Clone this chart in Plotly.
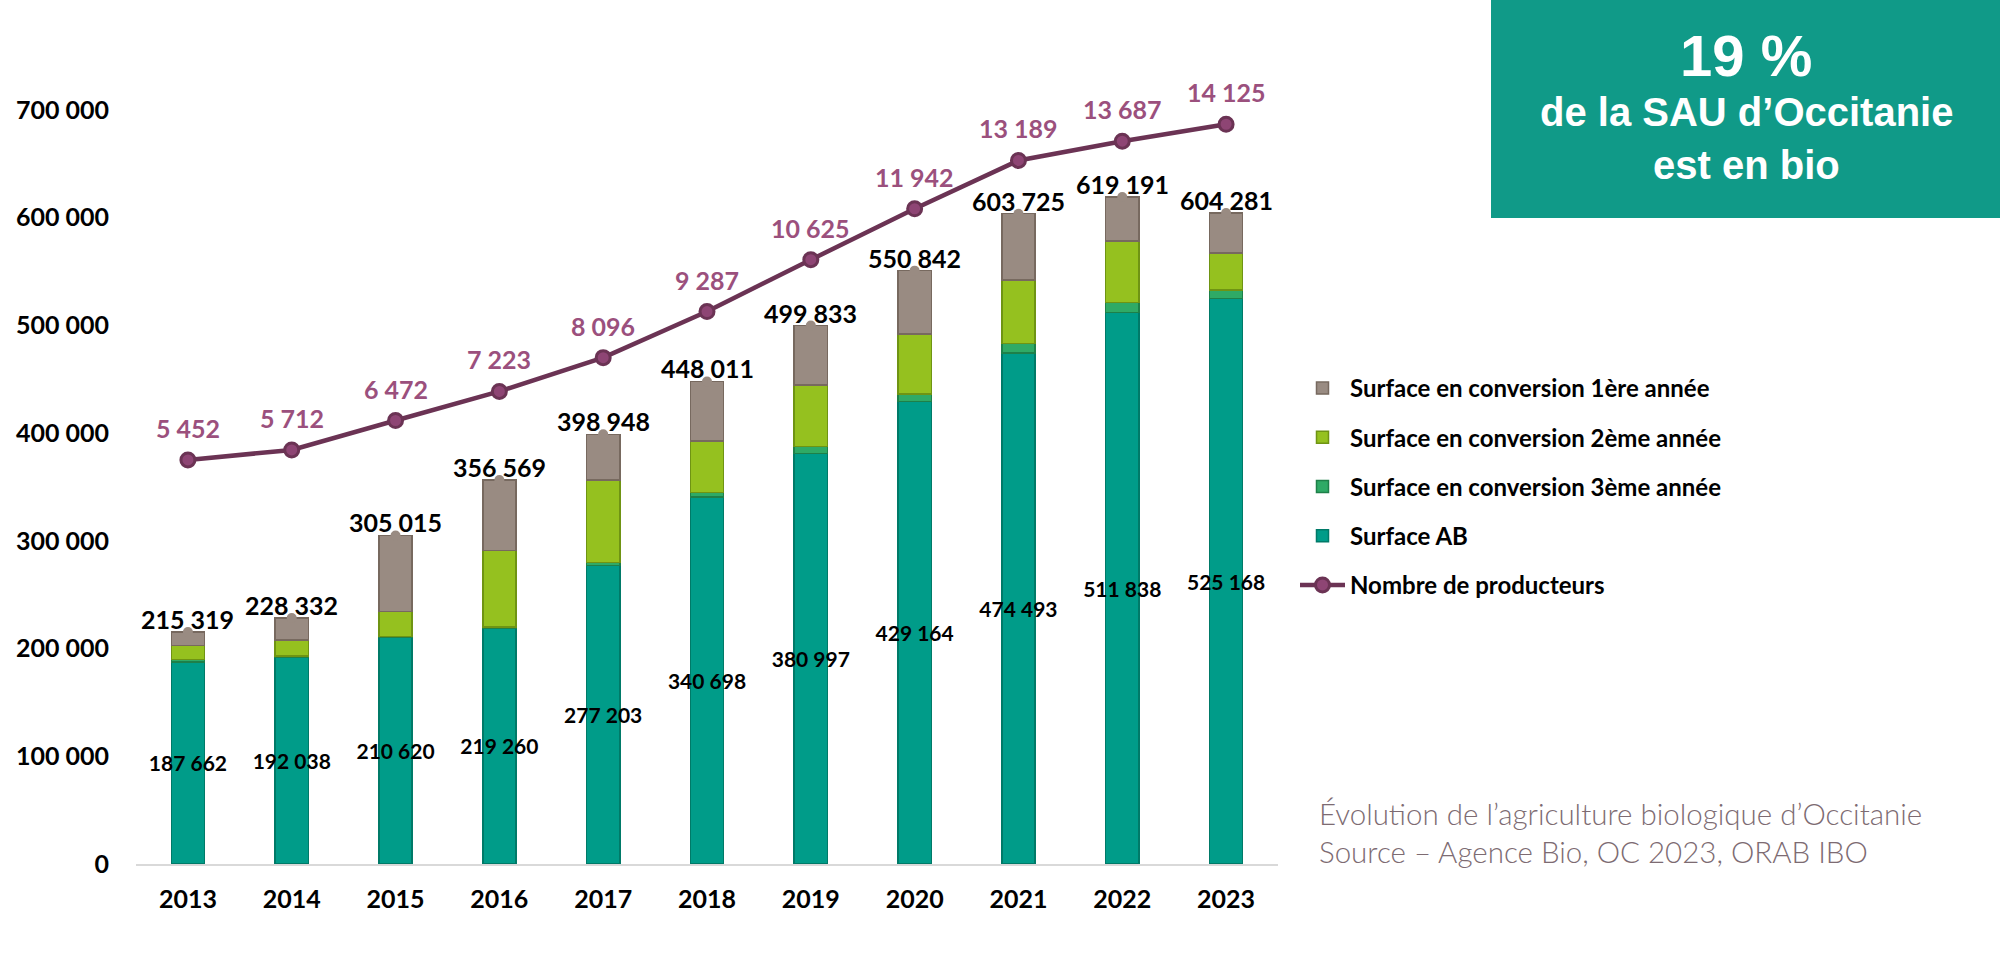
import plotly.graph_objects as go

# ---------------- data ----------------
years = [2013, 2014, 2015, 2016, 2017, 2018, 2019, 2020, 2021, 2022, 2023]
surface_ab = [187662, 192038, 210620, 219260, 277203, 340698, 380997, 429164, 474493, 511838, 525168]
conv_3e = [2400, 1100, 400, 1000, 2500, 4000, 6400, 7000, 8900, 9300, 7700]
conv_2e = [13000, 14900, 23200, 70600, 76800, 48000, 57300, 56000, 58800, 57300, 34600]
conv_1re = [12257, 20294, 70795, 65709, 42445, 55313, 55136, 58678, 61532, 40753, 36813]
totals = [215319, 228332, 305015, 356569, 398948, 448011, 499833, 550842, 603725, 619191, 604281]
producteurs = [5452, 5712, 6472, 7223, 8096, 9287, 10625, 11942, 13189, 13687, 14125]
y_ticks = [0, 100000, 200000, 300000, 400000, 500000, 600000, 700000]

names = {
    "c1": "Surface en conversion 1ère année",
    "c2": "Surface en conversion 2ème année",
    "c3": "Surface en conversion 3ème année",
    "ab": "Surface AB",
    "np": "Nombre de producteurs",
}


def fmt(v):
    return f"{v:,}".replace(",", " ")


FONT = "Lato"
C_GRAY, C_GRAY_B = "#998B82", "#77695F"
C_LIME, C_LIME_B = "#95C11F", "#6F9413"
C_GREEN, C_GREEN_B = "#2FAA66", "#1E8049"
C_TEAL, C_TEAL_B = "#009C89", "#007A68"
C_LINE = "#6B3354"
C_LINE_LBL = "#9B507D"

BAR_W = 0.32

fig = go.Figure()

fig.add_trace(go.Bar(
    x=years, y=surface_ab, name=names["ab"], legendgroup="ab", legendrank=4, width=BAR_W,
    marker=dict(color=C_TEAL, line=dict(color=C_TEAL_B, width=1.5)),
    text=[fmt(v) for v in surface_ab], textposition="inside", insidetextanchor="middle",
    textangle=0, constraintext="none",
    textfont=dict(family=FONT, size=21, color="black", weight="bold"),
    cliponaxis=False,
))
fig.add_trace(go.Bar(
    x=years, y=conv_3e, name=names["c3"], legendgroup="c3", legendrank=3, width=BAR_W,
    marker=dict(color=C_GREEN, line=dict(color=C_GREEN_B, width=1.5)),
))
fig.add_trace(go.Bar(
    x=years, y=conv_2e, name=names["c2"], legendgroup="c2", legendrank=2, width=BAR_W,
    marker=dict(color=C_LIME, line=dict(color=C_LIME_B, width=1.5)),
))
fig.add_trace(go.Bar(
    x=years, y=conv_1re, name=names["c1"], legendgroup="c1", legendrank=1, width=BAR_W,
    marker=dict(color=C_GRAY, line=dict(color=C_GRAY_B, width=1.5)),
))
# small callout bump on top of each bar
fig.add_trace(go.Scatter(
    x=years, y=totals, mode="markers", showlegend=False, hoverinfo="skip",
    marker=dict(symbol="circle", size=10, color=C_GRAY, line=dict(width=0)),
    cliponaxis=False,
))
fig.add_trace(go.Scatter(
    x=years, y=producteurs, name=names["np"], yaxis="y2", legendgroup="np", legendrank=5,
    mode="lines+markers",
    line=dict(color=C_LINE, width=4.5),
    marker=dict(symbol="circle", size=14, color="#8E4574", line=dict(color=C_LINE, width=3)),
    cliponaxis=False,
))

annotations = []
for yr, tot in zip(years, totals):
    annotations.append(dict(
        x=yr, y=tot, xref="x", yref="y", text=fmt(tot), showarrow=False,
        yanchor="middle", yshift=13,
        font=dict(family=FONT, size=25, color="black", weight="bold"),
    ))
for yr, p in zip(years, producteurs):
    annotations.append(dict(
        x=yr, y=p, xref="x", yref="y2", text=fmt(p), showarrow=False,
        yanchor="middle", yshift=32,
        font=dict(family=FONT, size=25, color=C_LINE_LBL, weight="bold"),
    ))

# geometry helpers (paper coords): plot area x 136..1278, y 110..864 px
PL, PR, PT, PB = 136, 1278, 110, 864
W, H = PR - PL, PB - PT


def px_x(px):
    return (px - PL) / W


def px_y(py):
    return (PB - py) / H


annotations += [
    dict(x=px_x(1746), y=px_y(56), xref="paper", yref="paper", text="<b>19 %</b>", showarrow=False,
         xanchor="center", yanchor="middle",
         font=dict(family="Liberation Sans", size=58, color="white")),
    dict(x=px_x(1746), y=px_y(112), xref="paper", yref="paper", text="<b>de la SAU d’Occitanie</b>",
         showarrow=False, xanchor="center", yanchor="middle",
         font=dict(family="Liberation Sans", size=40, color="white")),
    dict(x=px_x(1746), y=px_y(165), xref="paper", yref="paper", text="<b>est en bio</b>",
         showarrow=False, xanchor="center", yanchor="middle",
         font=dict(family="Liberation Sans", size=40, color="white")),
    dict(x=px_x(1317), y=px_y(832), xref="paper", yref="paper",
         text="Évolution de l’agriculture biologique d’Occitanie<br>Source – Agence Bio, OC 2023, ORAB IBO",
         showarrow=False, xanchor="left", yanchor="middle", align="left",
         font=dict(family=FONT, size=29.5, color="#7D6B72", weight=300)),
]

shapes = [
    dict(type="rect", xref="paper", yref="paper", x0=px_x(1491), x1=px_x(2000), y0=px_y(218), y1=px_y(0),
         fillcolor="#109A88", line=dict(width=0), layer="below"),
]

fig.update_layout(
    width=2000, height=976,
    margin=dict(l=PL, r=2000 - PR, t=PT, b=976 - PB, autoexpand=False),
    paper_bgcolor="white", plot_bgcolor="white",
    barmode="stack",
    showlegend=True,
    legend=dict(
        x=px_x(1295), y=px_y(366), xanchor="left", yanchor="top",
        font=dict(family=FONT, size=24, color="black", weight="bold"),
        traceorder="grouped", tracegroupgap=15, itemwidth=45,
        bgcolor="rgba(0,0,0,0)",
    ),
    xaxis=dict(
        range=[2012.5, 2023.5], tickvals=years, ticktext=[str(y) for y in years],
        showgrid=False, zeroline=False, showline=True, linecolor="#D9D9D9", linewidth=2,
        ticks="", tickfont=dict(family=FONT, size=25, color="black", weight="bold"),
        ticklabelstandoff=12,
    ),
    yaxis=dict(
        range=[0, 700000], tickvals=y_ticks, ticktext=[fmt(v) for v in y_ticks],
        showgrid=False, zeroline=False, showline=False, ticks="",
        tickfont=dict(family=FONT, size=25, color="black", weight="bold"),
        ticklabelstandoff=26,
    ),
    yaxis2=dict(
        overlaying="y", side="right", visible=False, range=[-4985, 14493],
        showgrid=False, zeroline=False,
    ),
    annotations=annotations,
    shapes=shapes,
)

fig.write_html("out.html")
